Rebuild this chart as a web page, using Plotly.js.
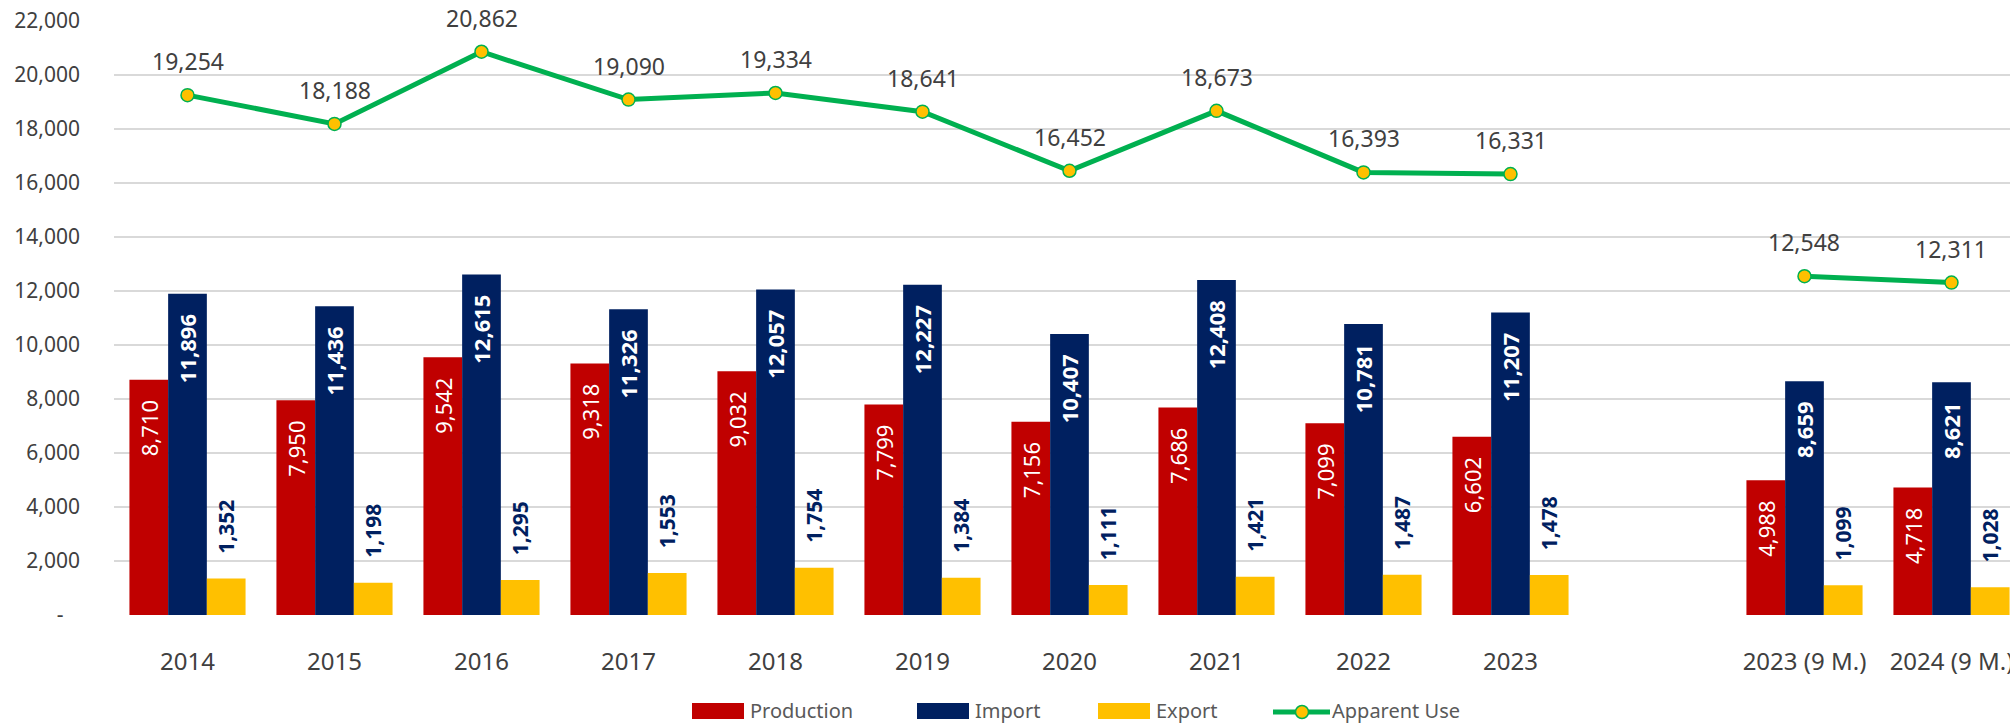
<!DOCTYPE html>
<html>
<head>
<meta charset="utf-8">
<script src="https://cdn.plot.ly/plotly-3.0.1.min.js"></script>
<style>
html,body{margin:0;padding:0;background:#fff;overflow:hidden;}
#chart{width:2010px;height:724px;}
</style>
</head>
<body>
<div id="chart"></div>
<script>
// ---- data ----
const categories = ['2014','2015','2016','2017','2018','2019','2020','2021','2022','2023',' ','2023 (9 M.)','2024 (9 M.)'];
const production = [8710, 7950, 9542, 9318, 9032, 7799, 7156, 7686, 7099, 6602, null, 4988, 4718];
const importVals = [11896, 11436, 12615, 11326, 12057, 12227, 10407, 12408, 10781, 11207, null, 8659, 8621];
const exportVals = [1352, 1198, 1295, 1553, 1754, 1384, 1111, 1421, 1487, 1478, null, 1099, 1028];
const apparentUse = [19254, 18188, 20862, 19090, 19334, 18641, 16452, 18673, 16393, 16331, null, 12548, 12311];
const yTickVals = [0, 2000, 4000, 6000, 8000, 10000, 12000, 14000, 16000, 18000, 20000, 22000];
const seriesNames = ['Production', 'Import', 'Export', 'Apparent Use'];

// ---- styling ----
const RED = '#C00000', NAVY = '#002060', GOLD = '#FFC000', GREEN = '#00B050';
const FONT = 'Noto Sans, Open Sans, sans-serif';
const NB = '\u00A0';
const fmt = v => (v == null ? '' : v.toLocaleString('en-US'));

const prodTrace = {
  type: 'bar', name: seriesNames[0], x: categories, y: production,
  marker: {color: RED},
  text: production.map(v => v == null ? '' : fmt(v) + NB + NB + NB),
  textposition: 'inside', insidetextanchor: 'end', textangle: -90,
  constraintext: 'none',
  textfont: {family: FONT, size: 22, color: '#FFFFFF'},
  showlegend: false, hoverinfo: 'x+y+name'
};
const impTrace = {
  type: 'bar', name: seriesNames[1], x: categories, y: importVals,
  marker: {color: NAVY},
  text: importVals.map(v => v == null ? '' : fmt(v) + NB + NB + NB),
  textposition: 'inside', insidetextanchor: 'end', textangle: -90,
  constraintext: 'none',
  textfont: {family: FONT, size: 22, color: '#FFFFFF', weight: 'bold'},
  showlegend: false, hoverinfo: 'x+y+name'
};
const expTrace = {
  type: 'bar', name: seriesNames[2], x: categories, y: exportVals,
  marker: {color: GOLD},
  text: exportVals.map(v => v == null ? '' : NB + NB + NB + NB + fmt(v)),
  textposition: 'outside', textangle: -90, cliponaxis: false,
  constraintext: 'none',
  textfont: {family: FONT, size: 21, color: NAVY, weight: 'bold'},
  showlegend: false, hoverinfo: 'x+y+name'
};
const useTrace = {
  type: 'scatter', mode: 'lines+markers', name: seriesNames[3], x: categories, y: apparentUse,
  connectgaps: false,
  line: {color: GREEN, width: 5},
  marker: {color: GOLD, size: 13, line: {color: GREEN, width: 1.5}},
  showlegend: false, cliponaxis: false
};

// data labels for apparent use (x given as category index)
const annotations = [];
categories.forEach((c, i) => {
  if (apparentUse[i] != null) {
    annotations.push({
      x: i, y: apparentUse[i], xref: 'x', yref: 'y',
      text: fmt(apparentUse[i]), showarrow: false,
      yanchor: 'middle', yshift: 34,
      font: {family: FONT, size: 23, color: '#404040'}
    });
  }
});

// legend (pixel offsets from plot origin: left=114, bottom=615)
const LEG_Y = -95;
const legendShapes = [];
const legendItems = [
  {box: [578, 630], color: RED, textX: 635, label: seriesNames[0]},
  {box: [803, 855], color: NAVY, textX: 860, label: seriesNames[1]},
  {box: [984, 1036], color: GOLD, textX: 1041, label: seriesNames[2]}
];
legendItems.forEach(it => {
  legendShapes.push({
    type: 'rect', xref: 'paper', yref: 'paper', xsizemode: 'pixel', ysizemode: 'pixel',
    xanchor: 0, yanchor: 0, x0: it.box[0], x1: it.box[1], y0: -104, y1: -88,
    fillcolor: it.color, line: {width: 0}
  });
  annotations.push({
    x: 0, y: 0, xref: 'paper', yref: 'paper', xanchor: 'left', yanchor: 'middle',
    xshift: it.textX, yshift: LEG_Y, showarrow: false, text: it.label, borderpad: 0,
    font: {family: FONT, size: 20, color: '#595959'}
  });
});
legendShapes.push({
  type: 'line', xref: 'paper', yref: 'paper', xsizemode: 'pixel', ysizemode: 'pixel',
  xanchor: 0, yanchor: 0, x0: 1159, x1: 1216, y0: -97, y1: -97,
  line: {color: GREEN, width: 5}
});
legendShapes.push({
  type: 'circle', xref: 'paper', yref: 'paper', xsizemode: 'pixel', ysizemode: 'pixel',
  xanchor: 0, yanchor: 0, x0: 1181.5, x1: 1194.5, y0: -103.5, y1: -90.5,
  fillcolor: GOLD, line: {color: GREEN, width: 1.5}
});
annotations.push({
  x: 0, y: 0, xref: 'paper', yref: 'paper', xanchor: 'left', yanchor: 'middle',
  xshift: 1217, yshift: LEG_Y, showarrow: false, text: seriesNames[3], borderpad: 0,
  font: {family: FONT, size: 20, color: '#595959'}
});

const layout = {
  width: 2010, height: 724,
  margin: {l: 114, r: 0, t: 21, b: 109, pad: 0},
  paper_bgcolor: '#FFFFFF', plot_bgcolor: '#FFFFFF',
  barmode: 'group', bargap: 0.21, bargroupgap: 0,
  showlegend: false,
  font: {family: FONT, color: '#404040'},
  xaxis: {
    type: 'category', categoryorder: 'array', categoryarray: categories,
    range: [-0.5, 12.398], showgrid: false, zeroline: false, showline: false,
    ticks: '', ticklabelstandoff: 30, automargin: false,
    tickfont: {family: FONT, size: 24, color: '#404040'}
  },
  yaxis: {
    range: [0, 22000], tickmode: 'array', tickvals: yTickVals,
    ticktext: yTickVals.map(v => v === 0 ? '-' + NB + NB + NB : fmt(v)),
    showgrid: true, gridcolor: '#D9D9D9', gridwidth: 2,
    zeroline: false, showline: false, ticks: '', ticklabelstandoff: 33,
    automargin: false,
    tickfont: {family: FONT, size: 21, color: '#404040'}
  },
  shapes: legendShapes,
  annotations: annotations
};

Plotly.newPlot('chart', [prodTrace, impTrace, expTrace, useTrace], layout, {displayModeBar: false, staticPlot: true});
</script>
</body>
</html>
